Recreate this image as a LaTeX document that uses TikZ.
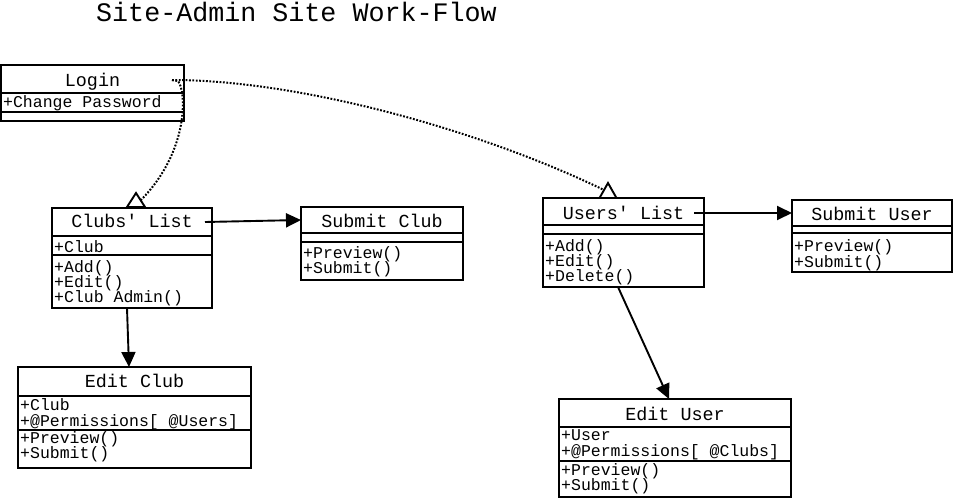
\documentclass[tikz,border=0pt]{standalone}
\usepackage{fontspec}
\setmainfont{Liberation Mono}
\usetikzlibrary{arrows.meta,calc}
\tikzset{
  box/.style={draw, line width=1.9pt, anchor=north west, inner sep=0pt, outer sep=0pt},
  hd/.style={anchor=base, inner sep=0pt, font=\fontsize{18.4}{18}\selectfont},
  it/.style={anchor=base west, inner sep=0pt, font=\fontsize{16.5}{16}\selectfont},
  ttl/.style={anchor=base west, inner sep=0pt, font=\fontsize{26.7}{27}\selectfont},
  flow/.style={line width=1.9pt, -{Triangle[length=15pt,width=14pt]}},
  dep/.style={line width=2pt, dash pattern=on 1.8pt off 1.6pt},
  gen/.style={line width=1.9pt, fill=white, line join=miter},
}
\newcommand\mkumlbox[7]{%
  \node[box, minimum width={#3-#2}, minimum height={#5-#4}] (#1) at (#2,#4) {};
  \node[box, minimum width={#3-#2}, minimum height={#6-#5}] (#1-a) at (#2,#5) {};
  \node[box, minimum width={#3-#2}, minimum height={#7-#6}] (#1-o) at (#2,#6) {};
}
\begin{document}
\begin{tikzpicture}[x=1pt,y=-1pt]
\fill[white] (0,0) rectangle (954,499);
\useasboundingbox (0,0) rectangle (954,499);

\node[ttl] (title) at (96,21) {Site-Admin Site Work-Flow};

% boxes
\mkumlbox{login}{1}{184}{65}{93}{112}{121}
\mkumlbox{cl}{52}{212}{208}{236}{255}{308}
\mkumlbox{sc}{301}{463}{207}{233}{242}{280}
\mkumlbox{ul}{543}{704}{198}{225}{234}{287}
\mkumlbox{su}{792}{952}{200}{226}{233}{272}
\mkumlbox{ec}{18}{251}{367}{396}{430}{468}
\mkumlbox{eu}{559}{791}{399}{427}{461}{497}

% headers
\node[hd] (login-t) at (92.5,86) {Login};
\node[hd] (cl-t) at (132,227) {Clubs\textquotesingle{} List};
\node[hd] (sc-t) at (382,227) {Submit Club};
\node[hd] (ul-t) at (623.5,219) {Users\textquotesingle{} List};
\node[hd] (su-t) at (872,220) {Submit User};
\node[hd] (ec-t) at (134.5,387) {Edit Club};
\node[hd] (eu-t) at (675,420) {Edit User};

% members
\node[it] (login-1) at (3,107) {+Change Password};

\node[it] (cl-1) at (54,252) {+Club};
\node[it] (cl-2) at (54,272) {+Add()};
\node[it] (cl-3) at (54,287) {+Edit()};
\node[it] (cl-4) at (54,302) {+Club Admin()};

\node[it] (sc-1) at (303,258) {+Preview()};
\node[it] (sc-2) at (303,273) {+Submit()};

\node[it] (ul-1) at (545,251) {+Add()};
\node[it] (ul-2) at (545,266.5) {+Edit()};
\node[it] (ul-3) at (545,281.5) {+Delete()};

\node[it] (su-1) at (794,251.5) {+Preview()};
\node[it] (su-2) at (794,267) {+Submit()};

\node[it] (ec-1) at (20,410) {+Club};
\node[it] (ec-2) at (20,426) {+@Permissions[ @Users]};
\node[it] (ec-3) at (20,443) {+Preview()};
\node[it] (ec-4) at (20,458) {+Submit()};

\node[it] (eu-1) at (561,440) {+User};
\node[it] (eu-2) at (561,456.5) {+@Permissions[ @Clubs]};
\node[it] (eu-3) at (561,475) {+Preview()};
\node[it] (eu-4) at (561,490) {+Submit()};

% dotted dependencies with open triangles
\coordinate (login-c) at ($(login.north east)+(-12,15)$);
\coordinate (cl-g) at ($(cl.north west)+(84,-15)$);
\coordinate (ul-g) at ($(ul.north west)+(65,-15)$);
\draw[dep] (login-c) -- ++(6,1) .. controls (186,90) and (190,150) .. ($(cl-g)+(5,7)$);
\draw[dep] (login-c) .. controls (300,80) and (480,130) .. ($(ul-g)+(-4,7)$);
\draw[gen] (cl-g) -- ++(-9,14) -- ++(18,0) -- cycle;
\draw[gen] (ul-g) -- ++(-8.5,15) -- ++(17,0) -- cycle;

% solid arrows
\draw[flow] ($(cl.east)+(-7,0)$) -- (sc.west);
\draw[flow] ($(ul.east)+(-10,1.5)$) -- (su.west);
\draw[flow] ($(cl-o.south west)+(75,0)$) -- ($(ec.north west)+(111,0)$);
\draw[flow] ($(ul-o.south west)+(75,0)$) -- ($(eu.north west)+(110,0)$);
\end{tikzpicture}
\end{document}
